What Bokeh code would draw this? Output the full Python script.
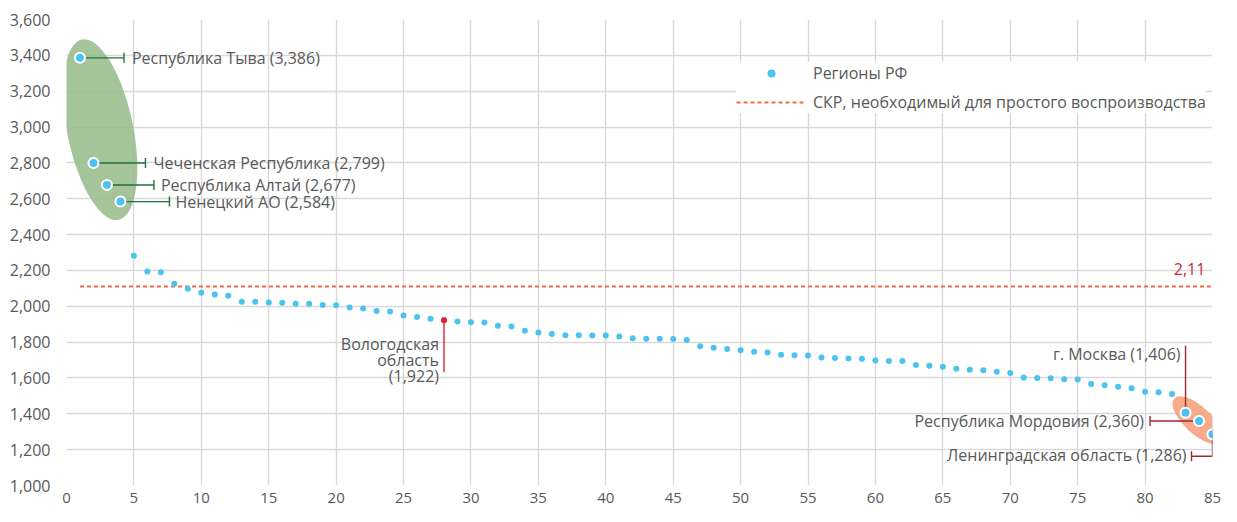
from bokeh.plotting import figure
from bokeh.models import (Label, Legend, LegendItem, NumeralTickFormatter,
                          SingleIntervalTicker, Range1d)
from bokeh.embed import file_html
from bokeh.resources import INLINE

# ---------------- data ----------------
region_rank = list(range(1, 86))
tfr = [3386, 2799, 2677, 2584, 2282, 2194, 2190, 2126, 2098, 2076, 2065, 2058,
       2025, 2025, 2021, 2019, 2014, 2014, 2007, 2005,
       1993, 1988, 1973, 1971, 1948, 1940, 1931, 1922,
       1915, 1911, 1909, 1891, 1887, 1863, 1854, 1845,
       1839, 1839, 1837, 1837, 1832, 1821, 1819, 1819, 1817, 1812,
       1777, 1768, 1762, 1755, 1746, 1742, 1729, 1727, 1725, 1714,
       1712, 1709, 1707, 1698, 1694, 1694, 1672, 1668, 1663, 1652,
       1646, 1643, 1634, 1628, 1602, 1600, 1598, 1593, 1591, 1567,
       1560, 1551, 1542, 1523, 1520, 1511, 1406, 1360, 1286]
replacement_tfr = 2110
replacement_label = "2,11"
series_names = ["Регионы РФ", "СКР, необходимый для простого воспроизводства"]

top_idx = [0, 1, 2, 3]
top_labels = ["Республика Тыва (3,386)", "Чеченская Республика (2,799)",
              "Республика Алтай (2,677)", "Ненецкий АО (2,584)"]
vologda_idx = 27
vologda_label = "Вологодская\nобласть\n(1,922)"
bottom_idx = [82, 83, 84]
bottom_labels = ["г. Москва (1,406)", "Республика Мордовия (2,360)",
                 "Ленинградская область (1,286)"]

# ---------------- styling ----------------
W, H = 1221, 506
BL, BR, BT, BB = 66, 9, 19, 21
FW, FH = W - BL - BR, H - BT - BB
X0, X1, Y0, Y1 = 0, 85, 1000, 3600
PX = (X1 - X0) / FW
PY = (Y1 - Y0) / FH
FONT = "Open Sans"
FS = "16px"
GRAY = "#595959"
BLUE = "#4CC3EC"
RED_LINE = "#F9684A"
DARK_GREEN = "#1E7040"
DARK_RED = "#9E2A2E"
BRIGHT_RED = "#E3202B"

p = figure(width=W, height=H, output_backend="svg", toolbar_location=None,
           x_range=Range1d(X0, X1), y_range=Range1d(Y0, Y1),
           min_border_left=BL, min_border_right=BR, min_border_top=BT,
           min_border_bottom=BB)
p.outline_line_color = None
p.background_fill_color = "white"

for ax in (p.xaxis, p.yaxis):
    ax.axis_line_color = None
    ax.major_tick_line_color = None
    ax.minor_tick_line_color = None
    ax.major_label_text_color = GRAY
    ax.major_label_text_font = FONT
p.xaxis.major_label_text_font_size = "15px"
p.yaxis.major_label_text_font_size = "16px"
p.xaxis.ticker = SingleIntervalTicker(interval=5)
p.yaxis.ticker = SingleIntervalTicker(interval=200)
p.yaxis.formatter = NumeralTickFormatter(format="0,0")
p.xaxis.major_label_standoff = 1
p.yaxis.major_label_standoff = 10
p.xgrid.ticker = SingleIntervalTicker(interval=5)
p.ygrid.ticker = SingleIntervalTicker(interval=200)
for g in (p.xgrid, p.ygrid):
    g.grid_line_color = "#D9D9D9"
    g.grid_line_width = 1.4

# highlight ellipses (screen-sized)
p.ellipse(x=[2.5], y=[2985], width=66, height=184, angle=0.2,
          width_units="screen", height_units="screen",
          fill_color="#95BA88", fill_alpha=0.85, line_color=None)
p.ellipse(x=[83.9], y=[1364], width=64, height=27, angle=-0.75,
          width_units="screen", height_units="screen",
          fill_color="#F39C78", fill_alpha=0.85, line_color=None)

# replacement line
ref_line = p.line(x=[region_rank[0], region_rank[-1]],
                  y=[replacement_tfr, replacement_tfr],
                  line_color=RED_LINE, line_width=2, line_dash="4 3")

# leaders
def seg(x0, y0, x1, y1, color):
    p.segment(x0=[x0], y0=[y0], x1=[x1], y1=[y1], line_color=color, line_width=1.4)

def tick_v(x, y, color):
    seg(x, y - 5 * PY, x, y + 5 * PY, color)

top_leader_px = [44, 52, 47, 49]
for i, L in zip(top_idx, top_leader_px):
    x, y = region_rank[i], tfr[i]
    seg(x, y, x + L * PX, y, DARK_GREEN)
    tick_v(x + L * PX, y, DARK_GREEN)

vx, vy = region_rank[vologda_idx], tfr[vologda_idx]
seg(vx, vy, vx, vy - 52 * PY, BRIGHT_RED)
mx, my = region_rank[bottom_idx[0]], tfr[bottom_idx[0]]
seg(mx, my, mx, my + 67 * PY, DARK_RED)
dx, dy = region_rank[bottom_idx[1]], tfr[bottom_idx[1]]
seg(dx, dy, dx - 49 * PX, dy, DARK_RED)
tick_v(dx - 49 * PX, dy, DARK_RED)
lx, ly = region_rank[bottom_idx[2]], tfr[bottom_idx[2]]
seg(lx, ly, lx, ly - 22 * PY, DARK_RED)
seg(lx, ly - 22 * PY, lx - 21 * PX, ly - 22 * PY, DARK_RED)
tick_v(lx - 21 * PX, ly - 22 * PY, DARK_RED)

# points
dots = p.scatter(x=region_rank, y=tfr, size=6, color=BLUE, line_color=None)
p.scatter(x=[vx], y=[vy], size=6, color=BRIGHT_RED, line_color=None)
hl = top_idx + bottom_idx
p.scatter(x=[region_rank[i] for i in hl], y=[tfr[i] for i in hl], size=10,
          fill_color=BLUE, line_color="white", line_width=2)

# labels: (x, y, text, x_offset, y_offset, align)
label_specs = []
top_text_px = [52, 60, 54, 55]
for i, t, o in zip(top_idx, top_labels, top_text_px):
    label_specs.append((region_rank[i], tfr[i], t, o, 0, "left"))
label_specs.append((vx, vy, vologda_label, -5, -40, "right"))
label_specs.append((mx, my, bottom_labels[0], -5, 59, "right"))
label_specs.append((dx, dy, bottom_labels[1], -55, 0, "right"))
label_specs.append((lx, ly, bottom_labels[2], -26, -21, "right"))

def make_label(spec, with_bg):
    x, y, t, xo, yo, al = spec
    return Label(x=x, y=y, x_offset=xo, y_offset=yo, text=t,
                 text_font=FONT, text_font_size=FS, text_color=GRAY,
                 text_alpha=0.0 if with_bg else 1.0,
                 text_align=al, text_baseline="middle", text_line_height=0.72,
                 background_fill_color="white" if with_bg else None,
                 padding=(8, 3) if with_bg else 0)

for s in label_specs:
    p.add_layout(make_label(s, True))
for s in label_specs:
    p.add_layout(make_label(s, False))

p.add_layout(Label(x=83.3, y=replacement_tfr, y_offset=12, text=replacement_label,
                   text_font=FONT, text_font_size=FS, text_color="#C8283A",
                   text_align="center", text_baseline="bottom"))

legend = Legend(items=[LegendItem(label=series_names[0], renderers=[dots]),
                       LegendItem(label=series_names[1], renderers=[ref_line])],
                location=(670, 372), glyph_width=70, glyph_height=20,
                label_standoff=7, spacing=7, padding=8, margin=0,
                border_line_color=None, background_fill_color="white",
                background_fill_alpha=1.0,
                label_text_font=FONT, label_text_font_size=FS,
                label_text_color=GRAY)
p.add_layout(legend)

open("out.html", "w").write(file_html(p, INLINE))
